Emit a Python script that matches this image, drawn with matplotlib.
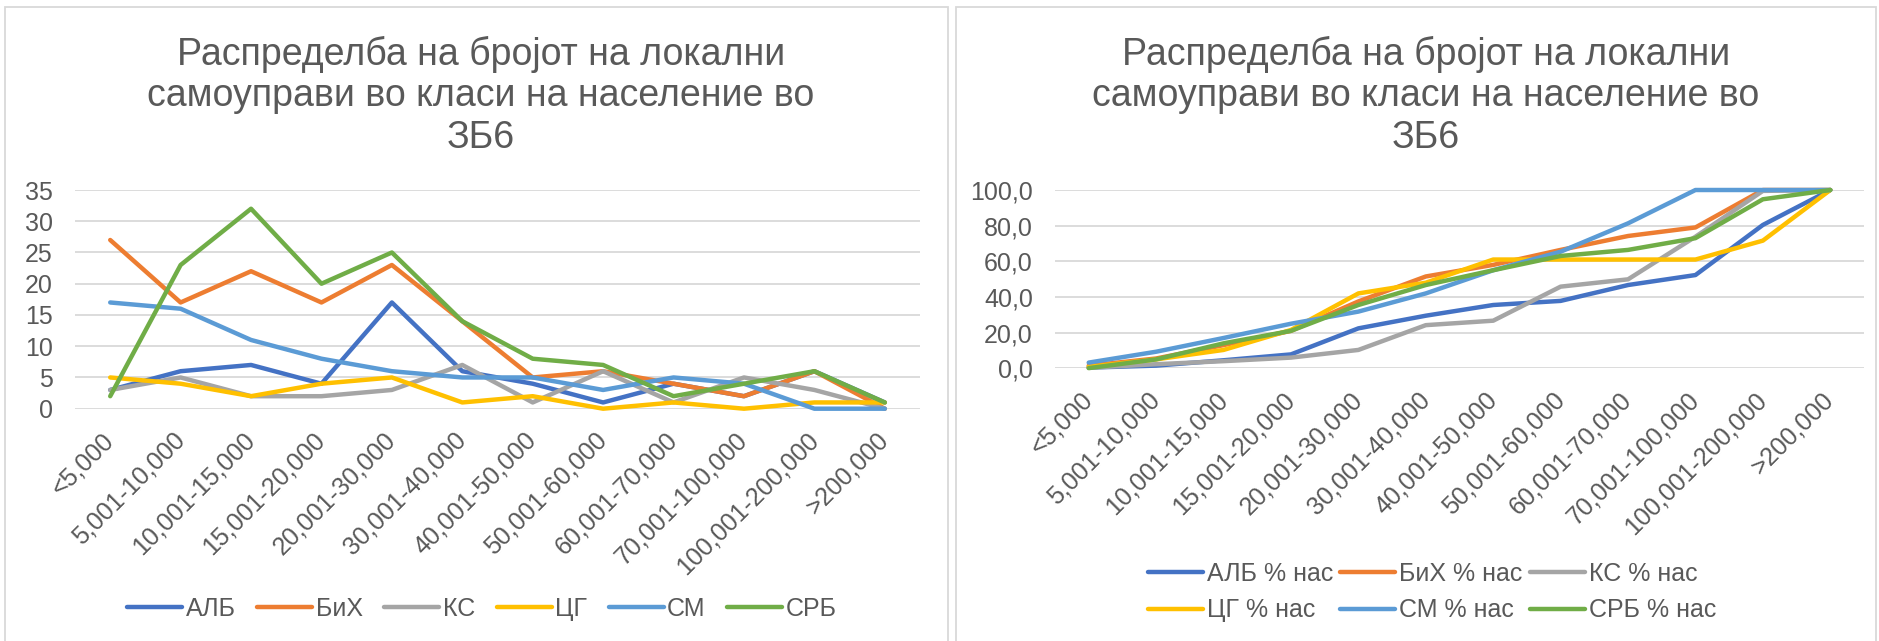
import matplotlib.pyplot as plt
from matplotlib.patches import Rectangle

plt.rcParams['font.family'] = ['Liberation Sans', 'DejaVu Sans']

categories = ['<5,000', '5,001-10,000', '10,001-15,000', '15,001-20,000',
              '20,001-30,000', '30,001-40,000', '40,001-50,000', '50,001-60,000',
              '60,001-70,000', '70,001-100,000', '100,001-200,000', '>200,000']
series_names = ['АЛБ', 'БиХ', 'КС', 'ЦГ', 'СМ', 'СРБ']
colors = ['#4472C4', '#ED7D31', '#A5A5A5', '#FFC000', '#5B9BD5', '#70AD47']
title_lines = ['Распределба на бројот на локални',
               'самоуправи во класи на население во',
               'ЗБ6']

# number of local self-governments per population class
alb_count = [3, 6, 7, 4, 17, 6, 4, 1, 4, 2, 6, 1]
bih_count = [27, 17, 22, 17, 23, 14, 5, 6, 4, 2, 6, 0]
ks_count = [3, 5, 2, 2, 3, 7, 1, 6, 1, 5, 3, 0]
cg_count = [5, 4, 2, 4, 5, 1, 2, 0, 1, 0, 1, 1]
sm_count = [17, 16, 11, 8, 6, 5, 5, 3, 5, 4, 0, 0]
srb_count = [2, 23, 32, 20, 25, 14, 8, 7, 2, 4, 6, 1]

# cumulative % of population
alb_pct = [0.4, 1.5, 4.5, 7.8, 22.4, 29.5, 35.5, 37.8, 46.7, 52.3, 80.4, 100.0]
bih_pct = [1.5, 5.5, 13.0, 21.0, 37.5, 51.5, 58.0, 66.4, 74.2, 79.0, 100.0, 100.0]
ks_pct = [0.3, 2.3, 4.0, 6.0, 10.3, 24.2, 26.7, 45.8, 49.9, 73.8, 99.5, 100.0]
cg_pct = [0.8, 5.0, 10.3, 21.5, 42.0, 48.0, 61.0, 61.0, 61.0, 61.0, 71.6, 100.0]
sm_pct = [3.2, 9.3, 17.0, 25.0, 31.8, 42.0, 55.0, 65.4, 81.3, 100.0, 100.0, 100.0]
srb_pct = [0.1, 5.0, 14.0, 21.0, 35.5, 46.7, 55.0, 63.0, 66.4, 73.0, 94.8, 100.0]

counts = [alb_count, bih_count, ks_count, cg_count, sm_count, srb_count]
pcts = [alb_pct, bih_pct, ks_pct, cg_pct, sm_pct, srb_pct]

W, H = 1879, 641
fig = plt.figure(figsize=(W / 100, H / 100), dpi=100)
txt = '#595959'
grid = '#d9d9d9'


def px_axes(x0, y0, x1, y1):
    return fig.add_axes([x0 / W, 1 - y1 / H, (x1 - x0) / W, (y1 - y0) / H])


# panel borders
for x0, x1 in [(5, 948), (956, 1876)]:
    fig.add_artist(Rectangle((x0 / W, -0.01), (x1 - x0) / W, 1 - 7 / H + 0.01,
                             transform=fig.transFigure, fill=False,
                             ec=grid, lw=1.3))


def style(ax, ymax, step, fmt):
    ax.set_xlim(-0.5, len(categories) - 0.5)
    ax.set_ylim(0, ymax)
    ax.set_yticks(range(0, ymax + 1, step))
    ax.set_yticklabels([fmt(v) for v in range(0, ymax + 1, step)])
    ax.set_xticks(range(len(categories)))
    ax.set_xticklabels(categories, rotation=45, ha='right', va='center',
                       rotation_mode='anchor')
    ax.grid(axis='y', color=grid, lw=1.3)
    ax.set_axisbelow(True)
    for s in ax.spines.values():
        s.set_visible(False)
    ax.tick_params(axis='y', length=0, pad=16, labelsize=18, labelcolor=txt)
    ax.tick_params(axis='x', length=0, pad=20, labelsize=18, labelcolor=txt)


def draw(ax, data, suffix):
    lines = []
    for name, vals, c in zip(series_names, data, colors):
        ln, = ax.plot(range(len(categories)), vals, color=c, lw=3.2,
                      solid_capstyle='round', solid_joinstyle='round',
                      clip_on=False, label=name + suffix, zorder=3)
        lines.append(ln)
    return lines


# left: counts
ax1 = px_axes(75, 190, 920, 408.7)
h1 = draw(ax1, counts, '')
style(ax1, 35, 5, lambda v: str(v))
fig.legend(handles=h1, loc='center', bbox_to_anchor=(482 / W, 1 - 609 / H),
           ncol=6, frameon=False, fontsize=18, labelcolor=txt,
           handlelength=2.2, handletextpad=0.15, columnspacing=0.85)

# right: cumulative population share
ax2 = px_axes(1055, 190, 1864, 368.3)
h2 = draw(ax2, pcts, ' % нас')
style(ax2, 100, 20, lambda v: '{},0'.format(v))
order = [0, 3, 1, 4, 2, 5]
fig.legend(handles=[h2[i] for i in order], loc='center',
           bbox_to_anchor=(1432 / W, 1 - 592 / H), ncol=3, frameon=False,
           fontsize=18, labelcolor=txt, handlelength=2.2, handletextpad=0.15,
           columnspacing=0.3, labelspacing=0.5)

# titles
for cx in [481, 1426]:
    for i, line in enumerate(title_lines):
        fig.text(cx / W, 1 - (54 + 42 * i) / H, line, ha='center', va='center',
                 fontsize=27, color=txt)

fig.savefig('out.png', dpi=100, facecolor='white')
